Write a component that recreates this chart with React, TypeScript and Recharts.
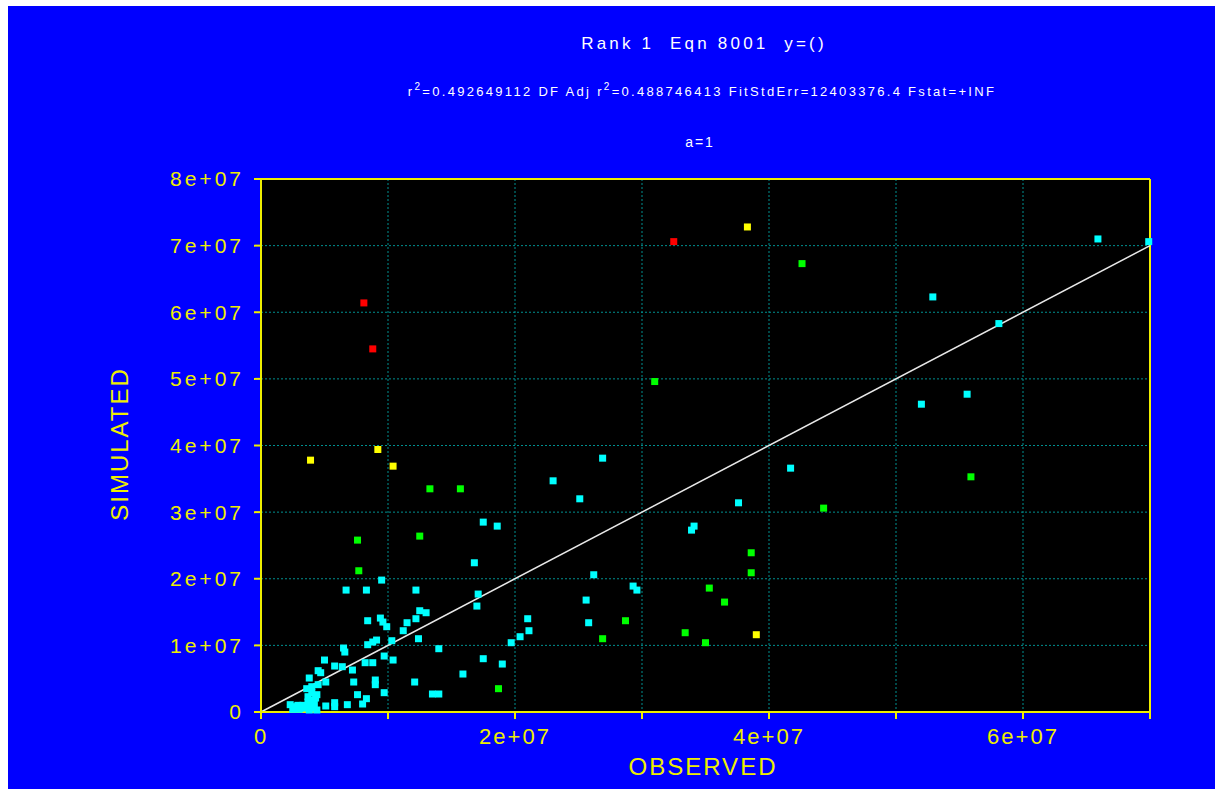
import { ScatterChart, Scatter, XAxis, YAxis, CartesianGrid, ReferenceLine } from "recharts"

// values in millions: [observed, simulated]
const cyanPts = [
  [65.9, 71.0], [69.9, 70.6], [52.9, 62.3], [58.1, 58.3], [52.0, 46.2], [55.6, 47.7],
  [41.7, 36.6], [37.6, 31.4], [34.1, 27.9], [33.9, 27.3], [26.9, 38.1], [23.0, 34.7],
  [25.1, 32.0], [26.2, 20.6], [29.3, 18.9], [29.6, 18.3], [25.6, 16.8], [25.8, 13.4],
  [21.0, 14.0], [21.1, 12.2], [20.4, 11.3], [19.7, 10.4], [19.0, 7.2], [17.5, 28.5],
  [18.6, 27.9], [16.8, 22.4], [9.5, 19.8], [6.7, 18.3], [8.3, 18.3], [12.2, 18.3],
  [17.1, 17.7], [17.0, 15.9], [12.5, 15.2], [13.0, 14.9], [12.2, 14.0], [8.4, 13.7],
  [9.4, 14.1], [9.6, 13.5], [9.9, 12.8], [11.5, 13.4], [11.2, 12.2], [12.4, 11.0],
  [10.3, 10.7], [8.4, 10.1], [8.8, 10.5], [9.1, 10.8], [6.5, 9.6], [6.6, 9.0],
  [9.7, 8.4], [10.4, 7.8], [8.2, 7.4], [8.8, 7.4], [5.0, 7.8], [5.8, 6.9],
  [6.4, 6.8], [7.2, 6.3], [4.5, 6.2], [4.7, 5.9], [3.8, 5.1], [5.1, 4.5],
  [7.3, 4.5], [9.0, 4.8], [9.0, 4.1], [12.1, 4.5], [9.7, 2.9], [7.6, 2.6],
  [8.3, 2.0], [8.0, 1.2], [5.8, 1.4], [5.1, 0.9], [5.8, 0.8], [6.8, 1.1],
  [3.7, 2.3], [4.0, 1.8], [3.9, 1.1], [4.1, 0.6], [2.3, 1.1], [2.7, 0.8],
  [3.1, 0.6], [3.5, 0.6], [3.6, 3.5], [4.0, 3.8], [4.5, 4.1], [13.5, 2.7],
  [14.0, 2.7], [15.9, 5.7], [17.5, 8.0], [14.0, 9.5], [4.0, 2.9], [4.4, 2.6],
  [2.5, 0.4], [3.0, 0.4], [4.4, 0.3], [3.7, 1.5], [4.2, 1.2], [3.8, 0.3],
  [2.9, 1.0], [3.3, 1.0], [4.3, 2.1],
]
const greenPts = [
  [7.6, 25.8], [7.7, 21.2], [12.5, 26.4], [13.3, 33.5], [15.7, 33.5], [18.7, 3.5],
  [26.9, 11.0], [28.7, 13.7], [31.0, 49.6], [33.4, 11.9], [35.0, 10.4], [35.3, 18.6],
  [36.5, 16.5], [38.6, 23.9], [38.6, 20.9], [42.6, 67.3], [44.3, 30.6], [55.9, 35.3],
]
const yellowPts = [[3.9, 37.8], [9.2, 39.4], [10.4, 36.9], [38.3, 72.8], [39.0, 11.6]]
const redPts = [[8.1, 61.4], [8.8, 54.5], [32.5, 70.6]]
const fitLine = [[0, 0], [70, 70]]

const xTicks = [0, 1e7, 2e7, 3e7, 4e7, 5e7, 6e7, 7e7]
const yTicks = [0, 1e7, 2e7, 3e7, 4e7, 5e7, 6e7, 7e7, 8e7]

const toPts = (arr: number[][]) => arr.map(([x, y]) => ({ x: x * 1e6, y: y * 1e6 }))

const fmt = (v: number) => (v === 0 ? "0" : `${Math.round(v / 1e7)}e+07`)
const fmtX = (v: number) => (Math.round(v / 1e7) % 2 === 0 ? fmt(v) : "")

const YEL = "#EEEE00"
const FONT = "'Liberation Sans', Arial, sans-serif"

const square = (color: string) => (props: any) => (
  <rect x={props.cx - 3.5} y={props.cy - 3.5} width={7} height={7} fill={color} />
)

export default function App() {
  return (
    <div style={{ position: "absolute", left: 8, top: 6, width: 1207, height: 783, background: "#0000FF", fontFamily: FONT }}>
      <div style={{ position: "absolute", left: 696, top: 38, transform: "translate(-50%, -50%)", color: "#fff", fontSize: 17, letterSpacing: 3.2, whiteSpace: "nowrap" }}>
        Rank 1&nbsp;&nbsp;Eqn 8001&nbsp;&nbsp;y=()
      </div>
      <div style={{ position: "absolute", left: 694, top: 84, transform: "translate(-50%, -50%)", color: "#fff", fontSize: 13, letterSpacing: 2.3, whiteSpace: "nowrap" }}>
        r<sup style={{ fontSize: 10 }}>2</sup>=0.492649112 DF Adj r<sup style={{ fontSize: 10 }}>2</sup>=0.488746413 FitStdErr=12403376.4 Fstat=+INF
      </div>
      <div style={{ position: "absolute", left: 692, top: 136, transform: "translate(-50%, -50%)", color: "#fff", fontSize: 14, letterSpacing: 2, whiteSpace: "nowrap" }}>
        a=1
      </div>
      <div style={{ position: "absolute", left: 112, top: 438, transform: "translate(-50%, -50%) rotate(-90deg)", color: YEL, fontSize: 24, letterSpacing: 2, whiteSpace: "nowrap" }}>
        SIMULATED
      </div>
      <div style={{ position: "absolute", left: 695, top: 761, transform: "translate(-50%, -50%)", color: YEL, fontSize: 24, letterSpacing: 2, whiteSpace: "nowrap" }}>
        OBSERVED
      </div>
      <ScatterChart width={1207} height={783} margin={{ top: 173, right: 65, left: 0, bottom: 0 }} style={{ position: "absolute", left: 0, top: 0 }}>
        <CartesianGrid fill="#000" stroke="#009090" strokeDasharray="2 2" />
        <XAxis
          type="number"
          dataKey="x"
          domain={[0, 7e7]}
          ticks={xTicks}
          interval={0}
          tickFormatter={fmtX}
          height={77}
          tickSize={7}
          tickMargin={9}
          axisLine={{ stroke: YEL, strokeWidth: 2 }}
          tickLine={{ stroke: YEL, strokeWidth: 2 }}
          tick={{ fill: YEL, fontSize: 22, fontFamily: FONT, letterSpacing: 2 }}
        />
        <YAxis
          type="number"
          dataKey="y"
          domain={[0, 8e7]}
          ticks={yTicks}
          interval={0}
          tickFormatter={fmt}
          width={253}
          tickSize={7}
          tickMargin={10}
          axisLine={{ stroke: YEL, strokeWidth: 2 }}
          tickLine={{ stroke: YEL, strokeWidth: 2 }}
          tick={{ fill: YEL, fontSize: 21, fontFamily: FONT, letterSpacing: 3 }}
        />
        <ReferenceLine y={8e7} stroke={YEL} strokeWidth={2} />
        <ReferenceLine x={7e7} stroke={YEL} strokeWidth={2} />
        <ReferenceLine
          segment={toPts(fitLine)}
          stroke="#e8e8e8"
          strokeWidth={1.5}
        />
        <Scatter data={toPts(cyanPts)} shape={square("#00FFFF")} isAnimationActive={false} />
        <Scatter data={toPts(greenPts)} shape={square("#00FF00")} isAnimationActive={false} />
        <Scatter data={toPts(yellowPts)} shape={square("#FFFF00")} isAnimationActive={false} />
        <Scatter data={toPts(redPts)} shape={square("#FF0000")} isAnimationActive={false} />
      </ScatterChart>
    </div>
  )
}
